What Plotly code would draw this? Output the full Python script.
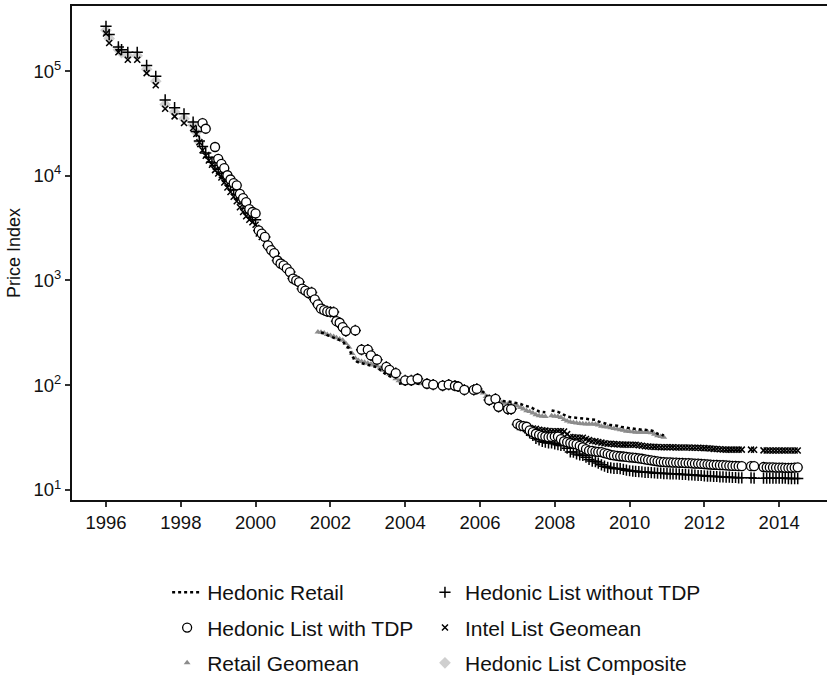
import pandas as pd
import plotly.graph_objects as go

# ---------------- data ----------------
# Hedonic List with TDP (open circles), monthly from 1998-08
with_tdp_start = "1998-08-01"
with_tdp = (
    [31800, 28100, None, None, 18800]                                            # 1998 Aug-Dec
    + [14500, 13000, 11800, 10100, 9200, 8500, 8100, 6700, 6100, 5600, 4800, 4500]  # 1999
    + [4360, 3000, 2800, 2600, 2160, 1950, 1820, 1550, 1450, 1390, 1300, 1200]      # 2000
    + [1040, 1000, 964, 833, 800, 757, 768, 658, 590, 537, 520, 506]                # 2001
    + [500, 498, 408, 394, 358, 328, None, None, 333, None, 218, None]              # 2002
    + [218, 192, None, 175, None, None, 149, 140, None, 130, None, None]            # 2003
    + [111, None, 111, None, 115, None, None, 103, None, 101, None, None]           # 2004
    + [99, None, 101, None, 98.6, 97, None, 90, None, None, 90, 92]                 # 2005
    + [None, None, None, 72, None, 74, 62, None, None, 59, 59, None]                # 2006
    + [42.7, 41, 40.5, 40, 36.9, 35.5, 34.3, 33.5, 32.8, 32.3, 31.8, 32]            # 2007
    + [32.3, 32.3, 30.5, 29.1, 28.5, 28, 27.5, 27.1, 26.3, 25.5, 24.5, 23.7]        # 2008
    + [23.5, 23.2, 23, 22.9, 22.4, 22, 21.6, 21.3, 21.1, 20.9, 20.8, 20.6]          # 2009
    + [20.4, 20.3, 20.2, 20, 19.8, 19.5, 19.3, 19.1, 18.9, 18.7, 18.5, 18.4]        # 2010
    + [18.3, 18.3, 18.2, 18.2, 18.1, 18.1, 18, 18, 17.9, 17.8, 17.8, 17.7]          # 2011
    + [17.6, 17.5, 17.4, 17.3, 17.3, 17.2, 17.2, 17.1, 17, 16.9, 16.9, 16.8]        # 2012
    + [16.8, None, None, 16.8, 16.8, None, None, 16.5, 16.4, 16.4, 16.4, 16.3]      # 2013
    + [16.3, 16.3, 16.2, 16.2, 16.2, 16.3, 16.4]                                    # 2014 Jan-Jul
)

# Hedonic List without TDP (+): 1996-01 .. 2000-03
without_tdp_early = (
    [267000, 223000, None, None, 170000, 160000, None, 151000, None, None, 151000, None]
    + [None, 113000, None, None, 89000, None, None, 53000, None, None, 44700, None]
    + [None, 39000, None, None, 32600, 26500, 21400, 19000, 16500, 15000, 13500, 12500]
    + [11500, 10500, 9600, 8800, 8000, 7300, 6600, 6000, 5400, 4900, 4400, 4000]
    + [3800, 3000, 2700]
)
# 2007-01 .. 2014-07
without_tdp_late = (
    [42, 41, 40, 37, 35, 33, 31, 30, 29, 28.5, 28, 28]
    + [27.5, 27, 26.5, 26.5, 25, 23, 22.9, 22, 21.5, 21.3, 20.5, 19.5]
    + [18.8, 18.6, 18, 17.3, 16.8, 16.4, 16.2, 16, 16, 15.9, 15.7, 15.4]
    + [15.2, 15.1, 15, 14.9, 14.8, 14.7, 14.7, 14.6, 14.5, 14.4, 14.4, 14.3]
    + [14.3, 14.2, 14.2, 14.2, 14.1, 14, 14, 13.9, 13.9, 13.8, 13.7, 13.7]
    + [13.6, 13.5, 13.5, 13.4, 13.4, 13.3, 13.3, 13.2, 13.2, 13.1, 13.1, 13.0]
    + [13.0, None, None, 13.0, 12.9, None, None, 12.9, 12.9, 12.9, 12.9, 12.9]
    + [12.9, 12.9, 12.9, 12.8, 12.8, 12.8, 12.8]
)

# Intel List Geomean (x): 1996-01 .. 2000-03
intel_early = (
    [228000, 185000, None, None, 151000, None, None, 128000, None, None, 128000, None]
    + [None, 95500, None, None, 73000, None, None, 43600, None, None, 36900, None]
    + [None, 31900, None, None, 28500, 25000, 20900, 17500, 15500, 14000, 12700, 11300]
    + [10500, 9600, 8600, 7700, 7000, 6300, 5700, 5000, 4500, 4100, 3800, 3600]
    + [3400, 2800, 2600]
)
# 2007-01 .. 2014-07
intel_late = (
    [42, 41.5, 41, 40, 39, 38.5, 38.2, 37.5, 37, 36.8, 36.5, 36.3]
    + [36.3, 36.3, 36.3, 36, 34, 32, 31.8, 31.6, 31.4, 31.4, 30.5, 29.8]
    + [29.3, 29.1, 28.6, 28.2, 27.8, 27.5, 27.5, 27.3, 27.2, 27.1, 27, 27]
    + [26.9, 26.9, 26.9, 26.6, 26.3, 26.1, 25.9, 25.8, 25.7, 25.6, 25.5, 25.5]
    + [25.5, 25.5, 25.5, 25.4, 25.4, 25.4, 25.3, 25.3, 25.2, 25.2, 25.2, 25.1]
    + [25, 24.9, 24.8, 24.6, 24.5, 24.4, 24.3, 24.2, 24.2, 24.2, 24.2, 24.2]
    + [24.2, None, None, 24.2, 24.1, None, None, 23.8, 23.7, 23.7, 23.7, 23.7]
    + [23.7, 23.7, 23.7, 23.7, 23.7, 23.7, 23.7]
)

# Hedonic List Composite (diamonds): 1996-01 .. 1998-07, then the with-TDP index
composite_early = (
    [245000, 205000, None, None, 160000, 150000, None, 140000, None, None, 140000, None]
    + [None, 104000, None, None, 80000, None, None, 48000, None, None, 40500, None]
    + [None, 35000, None, None, 30500, 26000, 21000]
)

# Hedonic Retail (dotted), monthly from 2001-10
retail_start = "2001-10-01"
hedonic_retail = (
    [318, 312, 300]
    + [292, 285, 276, 268, 262, 240, 225, 190, 170, 165, 162, 160]
    + [158, 155, 152, 148, 140, 132, 126, 122, 118, None, 103, 104]
    + [105, 107, 106, 104, 103, 102, 101, 101, 100, 101, 101, 101]
    + [101, 101, 100, 100, 99, 98, 97, 95, 93, 92, 91, 90]
    + [89, 86, 80, 75, 73, 72, 72, 71, 70, 70, 69, 69]
    + [68, 66, 64, 63, 62, 60, 58, 56, 55.5, 55, None, 57.3]
    + [56.5, 55.5, 54, 52, 50, 49.4, 49, 48.5, 48, 47.7, 47.5, 47]
    + [46.8, 46.6, 45, 44, 42.7, 42, 41.5, 41.2, 41, 40, 39.5, 38.8]
    + [38.8, 38.5, 38, 37.8, 37.5, 37.4, 37.2, 36.8, 36, 34.3, 34, 33]
)

# Retail Geomean (gray triangles), monthly from 2001-09
geomean_start = "2001-09-01"
retail_geomean = (
    [322, 320, 315, 305]
    + [298, 292, 284, 276, 268, 250, 230, 200, 180, 172, 168, 165]
    + [162, 159, 156, 152, 146, 139, 132, 127, 122, 115, 110, 108]
    + [108, 109, 108, 106, 105, 104, 103, 102, 101, 102, 102, 102]
    + [102, 101, 101, 100, 100, 99, 97, 96, 94, 92, 91, 90]
    + [88, 84, 78, 73, 71, 70, 69, 68, 67, 66, 65, 64]
    + [63, 61, 59, 57, 56, 54, 52, 51, 50.5, 50, None, 51]
    + [50.5, 50, 49, 47, 45.5, 44.5, 44, 43.5, 43, 42.7, 42.5, 42.5]
    + [42.5, 42.3, 41.5, 40.5, 40, 39.7, 39.2, 38.5, 38, 37.5, 37, 36.3]
    + [36.1, 35.8, 35.5, 35.5, 35.5, 35.5, 35.3, 35, 34, 32.8, 32.2, 31.8]
)

y_tick_vals = [10, 100, 1000, 10000, 100000]
y_tick_text = ["10<sup>1</sup>", "10<sup>2</sup>", "10<sup>3</sup>", "10<sup>4</sup>", "10<sup>5</sup>"]

# ---------------- assemble monthly series ----------------
def monthly(start, vals):
    return pd.date_range(start, periods=len(vals), freq="MS")

mid = with_tdp[20:101]  # 2000-04 .. 2006-12 (hidden under the circles)
without_tdp = without_tdp_early + mid + without_tdp_late
intel = intel_early + mid + intel_late
composite = composite_early + with_tdp

FONT = "Liberation Sans, Arial, Helvetica, sans-serif"

fig = go.Figure()

fig.add_trace(go.Scatter(
    x=monthly("1996-01-01", composite), y=composite, mode="markers",
    name="Hedonic List Composite", legend="legend2", legendrank=3, legendgroup="g6",
    marker=dict(symbol="diamond", size=9, color="#cfcfcf", line=dict(width=0)),
))
fig.add_trace(go.Scatter(
    x=monthly(geomean_start, retail_geomean), y=retail_geomean, mode="markers",
    name="Retail Geomean", legend="legend", legendrank=3, legendgroup="g5",
    marker=dict(symbol="triangle-up", size=6, color="#8c8c8c", line=dict(width=0)),
))
fig.add_trace(go.Scatter(
    x=monthly(retail_start, hedonic_retail), y=hedonic_retail, mode="lines",
    name="Hedonic Retail", legend="legend", legendrank=1, legendgroup="g1",
    line=dict(color="black", width=2.5, dash="dot"), connectgaps=False,
))
fig.add_trace(go.Scatter(
    x=monthly("1996-01-01", intel), y=intel, mode="markers",
    name="Intel List Geomean", legend="legend2", legendrank=2, legendgroup="g4",
    marker=dict(symbol="x-thin", size=6, color="black", line=dict(width=1.5, color="black")),
))
fig.add_trace(go.Scatter(
    x=monthly("1996-01-01", without_tdp), y=without_tdp, mode="markers",
    name="Hedonic List without TDP", legend="legend2", legendrank=1, legendgroup="g2",
    marker=dict(symbol="cross-thin", size=8, color="black", line=dict(width=1.5, color="black")),
))
fig.add_trace(go.Scatter(
    x=monthly(with_tdp_start, with_tdp), y=with_tdp, mode="markers",
    name="Hedonic List with TDP", legend="legend", legendrank=2, legendgroup="g3",
    marker=dict(symbol="circle", size=9, color="white", line=dict(width=1.3, color="black")),
))

legend_common = dict(
    orientation="v", xanchor="left", yanchor="top", traceorder="grouped",
    tracegroupgap=5, bgcolor="rgba(0,0,0,0)", borderwidth=0,
    font=dict(family=FONT, size=21, color="#111"),
)

fig.update_layout(
    width=827, height=677,
    margin=dict(l=72, r=0, t=6, b=177, autoexpand=False),
    paper_bgcolor="white", plot_bgcolor="white",
    font=dict(family=FONT, size=18, color="#111"),
    legend=dict(x=0.126, y=-0.146, **legend_common),
    legend2=dict(x=0.4675, y=-0.146, **legend_common),
    xaxis=dict(
        type="date", range=["1995-02-03", "2015-04-13"],
        tickmode="linear", tick0="1996-01-01", dtick="M24", tickformat="%Y",
        showgrid=False, zeroline=False,
        showline=True, linecolor="#111", linewidth=2, mirror=True,
        ticks="outside", ticklen=5, tickwidth=1.5, tickcolor="#333",
        tickfont=dict(family=FONT, size=18.5, color="#111"),
    ),
    yaxis=dict(
        type="log", range=[0.9025, 5.621],
        tickmode="array", tickvals=y_tick_vals, ticktext=y_tick_text,
        showgrid=False, zeroline=False,
        showline=True, linecolor="#111", linewidth=2,
        ticks="outside", ticklen=5, tickwidth=1.5, tickcolor="#333",
        tickfont=dict(family=FONT, size=18.5, color="#111"),
        title=dict(text="Price Index", font=dict(family=FONT, size=18, color="#111"), standoff=8),
    ),
)

fig.write_html("out.html")
